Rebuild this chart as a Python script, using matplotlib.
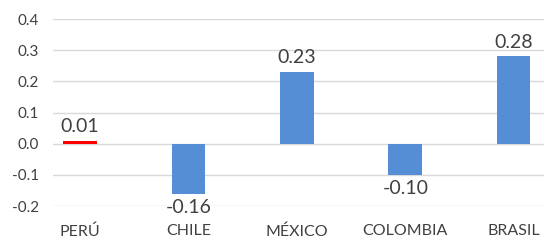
import matplotlib
matplotlib.use("Agg")
import matplotlib.pyplot as plt

paises = ["PERÚ", "CHILE", "MÉXICO", "COLOMBIA", "BRASIL"]
valores = [0.01, -0.16, 0.23, -0.10, 0.28]
colores = ["#ff0000", "#558ed5", "#558ed5", "#558ed5", "#558ed5"]
yticks = [-0.2, -0.1, 0.0, 0.1, 0.2, 0.3, 0.4]

plt.rcParams['font.family'] = ['Lato', 'DejaVu Sans']
texto = "#404040"

fig = plt.figure(figsize=(5.44, 2.42), dpi=100)
ax = fig.add_axes([53/544, 36/242, 1 - 53/544, 187/242])

x = list(range(len(paises)))
ax.bar(x, valores, width=0.31, color=colores, zorder=3)

for xi, v in zip(x, valores):
    if v >= 0:
        ax.annotate(f"{v:.2f}", (xi, v), xytext=(0, 4), textcoords="offset points",
                    ha="center", va="bottom", fontsize=14, color=texto)
    else:
        ax.annotate(f"{v:.2f}", (xi, v), xytext=(0, -4), textcoords="offset points",
                    ha="center", va="top", fontsize=14, color=texto)

ax.set_ylim(-0.2, 0.4)
ax.set_xlim(-0.25, 4.28)
ax.set_yticks(yticks)
ax.set_yticklabels([f"{t:.1f}" for t in yticks])
ax.set_xticks(x)
ax.set_xticklabels(paises)
ax.tick_params(axis="both", length=0, colors=texto)
ax.tick_params(axis="y", labelsize=11, pad=10)
ax.tick_params(axis="x", labelsize=11.5, pad=13)
ax.grid(axis="y", color="#d9d9d9", linewidth=1, zorder=0)
for s in ax.spines.values():
    s.set_visible(False)

fig.savefig("out.png", dpi=100)
